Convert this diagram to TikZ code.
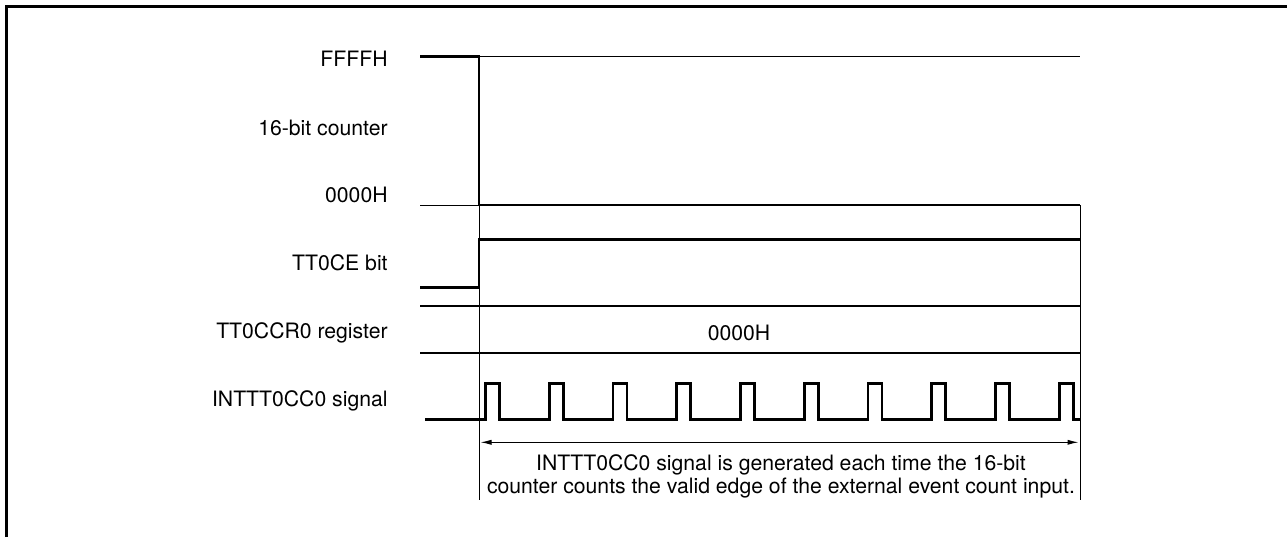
\documentclass[tikz,border=0pt]{standalone}
\usepackage{fontspec}
\setmainfont{TeX Gyre Heros}
\usetikzlibrary{arrows.meta}

\begin{document}
\begin{tikzpicture}[
  x=0.5pt, y=-0.5pt,
  every node/.style={font=\fontsize{10.6}{12.7}\selectfont, inner sep=0pt},
  frame/.style={line width=1.6pt},
  sig/.style={line width=1.45pt},
  guide/.style={line width=0.5pt},
  lbl/.style={anchor=base east},
  span/.style={{Latex[length=5.5pt,width=2.6pt]}-{Latex[length=5.5pt,width=2.6pt]},line width=0.5pt}
]
  \useasboundingbox (0,0) rectangle (1287,537);
  \draw[frame] (6.5,537) -- (6.5,6.5) -- (1287,6.5);

  % signal names
  \node[lbl] (lmax) at (388,66) {FFFFH};
  \node[lbl] (lcnt) at (388,135) {16-bit counter};
  \node[lbl] (lmin) at (388,202.6) {0000H};
  \node[lbl] (lce) at (388,270.3) {TT0CE bit};
  \node[lbl] (lccr) at (388,338.6) {TT0CCR0 register};
  \node[lbl] (lint) at (388,406) {INTTT0CC0 signal};

  % guide lines
  \draw[guide] (479,205) -- (479,500);
  \draw[guide] (1080,205) -- (1080,500);

  % 16-bit counter
  \draw[guide] (479,56.7) -- (1080,56.7);
  \draw[guide] (420,205) -- (479,205);
  \draw[sig] (420,56.7) -- (479,56.7) -- (479,205) -- (1080,205);

  % TT0CE bit
  \draw[sig] (420,287.3) -- (479,287.3) -- (479,239.3) -- (1080,239.3);

  % TT0CCR0 register
  \draw[sig] (420,306) -- (1080,306);
  \draw[sig] (420,353) -- (1080,353);
  \node[anchor=base] (vccr) at (739,340) {0000H};

  % INTTT0CC0 signal
  \draw[sig] (425,419.3)
    foreach \k in {0,...,9} {
      -- ({485.5+63.75*\k},419.3) -- ++(0,-36) -- ++(14,0) -- ++(0,36)
    } -- (1081,419.3);

  \coordinate (spanl) at (480.5,442.3);
  \coordinate (spanr) at (1078.5,442.3);
  \draw[span] (spanl) -- (spanr);
  \node[anchor=base] (note1) at (781,470.3)
    {INTTT0CC0 signal is generated each time the 16-bit};
  \node[anchor=base] (note2) at (781,493.6)
    {counter counts the valid edge of the external event count input.};
\end{tikzpicture}
\end{document}
